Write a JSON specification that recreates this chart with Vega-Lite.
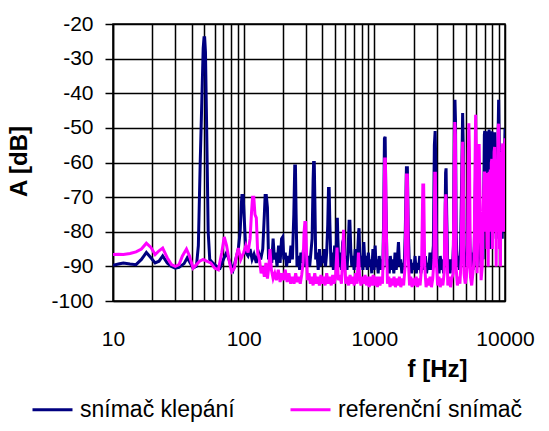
{
  "$schema": "https://vega.github.io/schema/vega-lite/v6.json",
  "width": 392,
  "height": 277,
  "autosize": {"type": "none"},
  "padding": {"left": 113, "top": 24, "right": 44, "bottom": 130},
  "background": "white",
  "config": {
    "font": "Liberation Sans",
    "view": {"stroke": "black", "strokeWidth": 1.5},
    "axis": {"labelColor": "black", "titleColor": "black", "domainColor": "black", "domainWidth": 1.5, "tickColor": "black", "tickWidth": 1.5, "gridColor": "black", "gridOpacity": 1, "gridWidth": 1.5}
  },
  "layer": [
    {
      "data": {"values": [
        {"f":10,"a":-89.7},{"f":11,"a":-89.3},{"f":12,"a":-89},{"f":13.5,"a":-89.3},{"f":15,"a":-89.5},{"f":16.5,"a":-88},{"f":18,"a":-86},{"f":19.5,"a":-87.5},{"f":21,"a":-89},{"f":22.5,"a":-88.5},{"f":24,"a":-87},{"f":26,"a":-89},{"f":28,"a":-90},{"f":30,"a":-90.5},{"f":32,"a":-90.3},{"f":35,"a":-89.2},{"f":37,"a":-87.5},{"f":39,"a":-89},{"f":41,"a":-90.5},{"f":43.5,"a":-90},{"f":45,"a":-84},{"f":46.5,"a":-60},{"f":48,"a":-40},{"f":49,"a":-27},{"f":49.7,"a":-24},{"f":50.3,"a":-24},{"f":51,"a":-28},{"f":52,"a":-48},{"f":53.5,"a":-80},{"f":55,"a":-88},{"f":58,"a":-89},{"f":62,"a":-90},{"f":66,"a":-90.5},{"f":70,"a":-88},{"f":74,"a":-86},{"f":78,"a":-88.5},{"f":83,"a":-91},{"f":87,"a":-88},{"f":91,"a":-85},{"f":94,"a":-80},{"f":96,"a":-72},{"f":97,"a":-69.5},{"f":99,"a":-69.5},{"f":101,"a":-76},{"f":104,"a":-86},{"f":108,"a":-87},{"f":112,"a":-85},{"f":116,"a":-88},{"f":120,"a":-86.5},{"f":125,"a":-89},{"f":130,"a":-86},{"f":135,"a":-88},{"f":140,"a":-85},{"f":144,"a":-75},{"f":146,"a":-69.5},{"f":149,"a":-69.5},{"f":152,"a":-73},{"f":155,"a":-88},{"f":160,"a":-85},{"f":164,"a":-89},{"f":168,"a":-82},{"f":172,"a":-88},{"f":176,"a":-86},{"f":180,"a":-90},{"f":185,"a":-84},{"f":190,"a":-89},{"f":195,"a":-82},{"f":199,"a":-81.5},{"f":203,"a":-88},{"f":208,"a":-86},{"f":213,"a":-90},{"f":218,"a":-87},{"f":224,"a":-89},{"f":230,"a":-84},{"f":236,"a":-88},{"f":242,"a":-75},{"f":246,"a":-61},{"f":249,"a":-61},{"f":252,"a":-75},{"f":256,"a":-90},{"f":262,"a":-87},{"f":268,"a":-91},{"f":274,"a":-86},{"f":280,"a":-89},{"f":287,"a":-85},{"f":294,"a":-90},{"f":300,"a":-86},{"f":306,"a":-89},{"f":313,"a":-87},{"f":320,"a":-90},{"f":327,"a":-86},{"f":334,"a":-82},{"f":340,"a":-65},{"f":343,"a":-60},{"f":347,"a":-60},{"f":351,"a":-72},{"f":356,"a":-88},{"f":364,"a":-86},{"f":372,"a":-91},{"f":380,"a":-85},{"f":388,"a":-90},{"f":396,"a":-87},{"f":405,"a":-89},{"f":414,"a":-85},{"f":423,"a":-90},{"f":432,"a":-86},{"f":440,"a":-78},{"f":446,"a":-67.5},{"f":451,"a":-67.5},{"f":457,"a":-78},{"f":466,"a":-90},{"f":476,"a":-86},{"f":486,"a":-91},{"f":497,"a":-84},{"f":506,"a":-90},{"f":516,"a":-80},{"f":521,"a":-76},{"f":526,"a":-82},{"f":536,"a":-90},{"f":548,"a":-86},{"f":560,"a":-91},{"f":572,"a":-83},{"f":583,"a":-82},{"f":594,"a":-90},{"f":606,"a":-87},{"f":618,"a":-91},{"f":632,"a":-84},{"f":641,"a":-77},{"f":650,"a":-77},{"f":660,"a":-85},{"f":672,"a":-90},{"f":686,"a":-87},{"f":700,"a":-91},{"f":714,"a":-85},{"f":728,"a":-90},{"f":743,"a":-87},{"f":758,"a":-80},{"f":764,"a":-79},{"f":770,"a":-84},{"f":786,"a":-90},{"f":802,"a":-87},{"f":818,"a":-91},{"f":831,"a":-83},{"f":848,"a":-90},{"f":865,"a":-87},{"f":882,"a":-91},{"f":900,"a":-86},{"f":918,"a":-90},{"f":937,"a":-88},{"f":956,"a":-92},{"f":975,"a":-85},{"f":995,"a":-91},{"f":1015,"a":-84},{"f":1030,"a":-90},{"f":1050,"a":-88},{"f":1070,"a":-92},{"f":1090,"a":-87},{"f":1115,"a":-91},{"f":1135,"a":-88},{"f":1160,"a":-91},{"f":1180,"a":-75},{"f":1195,"a":-53},{"f":1210,"a":-52.6},{"f":1225,"a":-70},{"f":1250,"a":-90},{"f":1275,"a":-88},{"f":1300,"a":-92},{"f":1325,"a":-87},{"f":1355,"a":-91},{"f":1380,"a":-88},{"f":1410,"a":-92},{"f":1440,"a":-86},{"f":1470,"a":-91},{"f":1500,"a":-88},{"f":1530,"a":-83},{"f":1560,"a":-90},{"f":1590,"a":-88},{"f":1625,"a":-92},{"f":1655,"a":-89},{"f":1690,"a":-91},{"f":1725,"a":-80},{"f":1760,"a":-61.5},{"f":1790,"a":-61.5},{"f":1820,"a":-80},{"f":1855,"a":-90},{"f":1895,"a":-88},{"f":1930,"a":-92},{"f":1970,"a":-89},{"f":2010,"a":-91},{"f":2050,"a":-87},{"f":2095,"a":-92},{"f":2135,"a":-89},{"f":2180,"a":-91},{"f":2225,"a":-87},{"f":2270,"a":-92},{"f":2320,"a":-89},{"f":2360,"a":-86},{"f":2410,"a":-91},{"f":2460,"a":-87},{"f":2510,"a":-92},{"f":2560,"a":-89},{"f":2610,"a":-91},{"f":2665,"a":-86},{"f":2720,"a":-91},{"f":2775,"a":-88},{"f":2830,"a":-84},{"f":2880,"a":-55},{"f":2920,"a":-50.9},{"f":2960,"a":-62},{"f":3010,"a":-90},{"f":3070,"a":-88},{"f":3130,"a":-92},{"f":3195,"a":-87},{"f":3260,"a":-91},{"f":3325,"a":-88},{"f":3390,"a":-92},{"f":3460,"a":-86},{"f":3510,"a":-63},{"f":3540,"a":-61.7},{"f":3580,"a":-75},{"f":3650,"a":-91},{"f":3720,"a":-88},{"f":3800,"a":-92},{"f":3875,"a":-88},{"f":3955,"a":-91},{"f":4030,"a":-84},{"f":4100,"a":-50},{"f":4140,"a":-41.9},{"f":4180,"a":-48},{"f":4230,"a":-80},{"f":4300,"a":-90},{"f":4390,"a":-87},{"f":4480,"a":-91},{"f":4570,"a":-85},{"f":4680,"a":-60},{"f":4740,"a":-45.7},{"f":4790,"a":-55},{"f":4860,"a":-88},{"f":4960,"a":-86},{"f":5060,"a":-90},{"f":5160,"a":-84},{"f":5240,"a":-70},{"f":5290,"a":-62},{"f":5350,"a":-80},{"f":5460,"a":-90},{"f":5570,"a":-86},{"f":5700,"a":-91},{"f":5820,"a":-84},{"f":5900,"a":-72},{"f":5960,"a":-62},{"f":6030,"a":-80},{"f":6120,"a":-90},{"f":6240,"a":-80},{"f":6340,"a":-66},{"f":6450,"a":-86},{"f":6560,"a":-90},{"f":6680,"a":-84},{"f":6800,"a":-88},{"f":6900,"a":-65},{"f":6950,"a":-52},{"f":7000,"a":-50.9},{"f":7060,"a":-70},{"f":7120,"a":-55},{"f":7200,"a":-51},{"f":7280,"a":-75},{"f":7360,"a":-56},{"f":7440,"a":-80},{"f":7500,"a":-55},{"f":7560,"a":-50.5},{"f":7630,"a":-72},{"f":7700,"a":-52},{"f":7770,"a":-85},{"f":7850,"a":-58},{"f":7930,"a":-51},{"f":8010,"a":-80},{"f":8100,"a":-55},{"f":8200,"a":-70},{"f":8280,"a":-52},{"f":8330,"a":-51.3},{"f":8400,"a":-75},{"f":8480,"a":-58},{"f":8560,"a":-82},{"f":8640,"a":-60},{"f":8720,"a":-78},{"f":8800,"a":-56},{"f":8870,"a":-50},{"f":8940,"a":-41.9},{"f":9010,"a":-52},{"f":9080,"a":-75},{"f":9150,"a":-56},{"f":9230,"a":-80},{"f":9300,"a":-62},{"f":9380,"a":-78},{"f":9450,"a":-60},{"f":9530,"a":-82},{"f":9600,"a":-64},{"f":9680,"a":-70},{"f":9740,"a":-60},{"f":9800,"a":-57.4},{"f":9860,"a":-75},{"f":9930,"a":-56},{"f":10000,"a":-50.2}
      ]},
      "mark": {"type": "line", "strokeWidth": 3, "clip": true},
      "encoding": {
        "x": {"field": "f", "type": "quantitative",
          "scale": {"type": "log", "domain": [10, 10000], "nice": false},
          "axis": {"values": [10,20,30,40,50,60,70,80,90,100,200,300,400,500,600,700,800,900,1000,2000,3000,4000,5000,6000,7000,8000,9000,10000],
            "tickCount": 100,
            "labelExpr": "(datum.value == 10 || datum.value == 100 || datum.value == 1000 || datum.value == 10000) ? '' + datum.value : ''",
            "ticks": false, "tickSize": 0, "labelPadding": 27, "labelFontSize": 21, "labelFlush": false, "labelOverlap": false,
            "grid": true, "title": "f [Hz]", "titleFontSize": 24, "titleFontWeight": "bold",
            "titleX": 324, "titleY": 75, "titleBaseline": "alphabetic", "titleAlign": "center"}},
        "y": {"field": "a", "type": "quantitative",
          "scale": {"domain": [-100, -20], "nice": false},
          "axis": {"values": [-100,-90,-80,-70,-60,-50,-40,-30,-20], "tickCount": 100, "labelExpr": "'' + datum.value",
            "tickSize": 8, "labelPadding": 12, "labelFontSize": 21, "labelOverlap": false, "grid": true,
            "title": "A [dB]", "titleFontSize": 24, "titleFontWeight": "bold",
            "titleX": -94, "titleY": 137, "titleAngle": 270, "titleAlign": "center", "titleBaseline": "middle"}},
        "color": {"datum": "snímač klepání", "type": "nominal",
          "scale": {"domain": ["snímač klepání", "referenční snímač"], "range": ["#000080", "#FF00FF"]},
          "legend": {"title": null, "orient": "none", "direction": "horizontal", "legendX": -82, "legendY": 364,
            "symbolType": "stroke", "symbolSize": 1600, "symbolStrokeWidth": 3, "labelFontSize": 23, "labelColor": "black",
            "labelOffset": 6, "columnPadding": 49, "labelLimit": 300}}
      }
    },
    {
      "data": {"values": [
        {"f":10,"a":-86.6},{"f":11,"a":-86.5},{"f":12,"a":-86.6},{"f":13.5,"a":-86.3},{"f":15,"a":-85.8},{"f":16.5,"a":-85},{"f":18,"a":-83.3},{"f":19.5,"a":-84.5},{"f":21,"a":-86.6},{"f":22.5,"a":-85.5},{"f":24,"a":-84.7},{"f":26,"a":-87.5},{"f":28,"a":-89.5},{"f":30,"a":-90},{"f":32,"a":-89.5},{"f":34,"a":-87},{"f":36.5,"a":-85},{"f":38.5,"a":-87},{"f":41,"a":-90.5},{"f":43.5,"a":-89.5},{"f":46,"a":-88.5},{"f":49,"a":-88},{"f":52,"a":-88.5},{"f":56,"a":-89},{"f":60,"a":-90.5},{"f":64,"a":-91},{"f":68,"a":-86},{"f":71,"a":-81.5},{"f":74,"a":-84},{"f":78,"a":-89},{"f":81,"a":-91.5},{"f":85,"a":-90.5},{"f":88,"a":-87},{"f":91,"a":-84.7},{"f":95,"a":-88},{"f":100,"a":-86},{"f":104,"a":-84},{"f":108,"a":-86},{"f":112,"a":-82},{"f":115,"a":-74},{"f":117,"a":-70},{"f":119.5,"a":-70},{"f":122,"a":-75},{"f":125,"a":-76},{"f":128,"a":-86},{"f":132,"a":-88},{"f":136,"a":-92},{"f":140,"a":-90},{"f":144,"a":-93},{"f":148,"a":-89},{"f":152,"a":-93.5},{"f":156,"a":-90},{"f":159,"a":-85},{"f":163,"a":-91},{"f":168,"a":-93.5},{"f":173,"a":-92},{"f":178,"a":-94},{"f":184,"a":-91},{"f":190,"a":-94.5},{"f":196,"a":-92},{"f":202,"a":-94},{"f":208,"a":-91},{"f":215,"a":-94.5},{"f":222,"a":-92},{"f":229,"a":-95},{"f":236,"a":-93},{"f":243,"a":-95},{"f":250,"a":-92},{"f":257,"a":-94.5},{"f":264,"a":-93},{"f":271,"a":-95},{"f":278,"a":-92.5},{"f":285,"a":-89},{"f":290,"a":-80},{"f":294,"a":-77.3},{"f":298,"a":-77.3},{"f":302,"a":-85},{"f":308,"a":-94},{"f":316,"a":-92},{"f":324,"a":-95},{"f":332,"a":-93},{"f":340,"a":-95.5},{"f":350,"a":-92},{"f":360,"a":-95},{"f":370,"a":-93},{"f":380,"a":-95.5},{"f":390,"a":-92.5},{"f":400,"a":-95},{"f":410,"a":-93},{"f":420,"a":-95.5},{"f":432,"a":-92},{"f":444,"a":-95},{"f":456,"a":-93},{"f":468,"a":-95.5},{"f":480,"a":-92.5},{"f":492,"a":-95},{"f":505,"a":-93},{"f":518,"a":-84.6},{"f":530,"a":-94},{"f":545,"a":-92.5},{"f":560,"a":-95},{"f":572,"a":-88},{"f":581,"a":-79.4},{"f":590,"a":-88},{"f":605,"a":-95},{"f":620,"a":-93},{"f":636,"a":-95.5},{"f":652,"a":-92.5},{"f":668,"a":-95},{"f":685,"a":-93},{"f":702,"a":-95.5},{"f":720,"a":-92},{"f":738,"a":-95},{"f":756,"a":-86},{"f":770,"a":-92.5},{"f":790,"a":-95.5},{"f":810,"a":-93},{"f":830,"a":-95},{"f":850,"a":-92.5},{"f":870,"a":-95.5},{"f":892,"a":-93},{"f":914,"a":-96},{"f":936,"a":-93},{"f":958,"a":-95.5},{"f":980,"a":-92.5},{"f":1005,"a":-95.5},{"f":1030,"a":-93},{"f":1055,"a":-96},{"f":1080,"a":-93},{"f":1105,"a":-95.5},{"f":1130,"a":-93},{"f":1155,"a":-95},{"f":1180,"a":-80},{"f":1200,"a":-59},{"f":1215,"a":-59},{"f":1235,"a":-80},{"f":1260,"a":-95},{"f":1290,"a":-93},{"f":1320,"a":-96},{"f":1350,"a":-93.5},{"f":1380,"a":-95.5},{"f":1415,"a":-93},{"f":1450,"a":-96},{"f":1485,"a":-93.5},{"f":1520,"a":-95.5},{"f":1555,"a":-93},{"f":1595,"a":-96},{"f":1635,"a":-93.5},{"f":1675,"a":-95.5},{"f":1720,"a":-90},{"f":1760,"a":-63.6},{"f":1790,"a":-63.6},{"f":1820,"a":-88},{"f":1860,"a":-95.5},{"f":1900,"a":-93},{"f":1945,"a":-96},{"f":1990,"a":-93.5},{"f":2040,"a":-95.5},{"f":2090,"a":-93},{"f":2140,"a":-96},{"f":2190,"a":-93.5},{"f":2240,"a":-95.5},{"f":2300,"a":-90},{"f":2350,"a":-66.5},{"f":2385,"a":-66.5},{"f":2430,"a":-90},{"f":2490,"a":-96},{"f":2550,"a":-93.5},{"f":2610,"a":-95.5},{"f":2670,"a":-93},{"f":2735,"a":-96},{"f":2800,"a":-93.5},{"f":2860,"a":-88},{"f":2900,"a":-63.1},{"f":2930,"a":-63.1},{"f":2975,"a":-88},{"f":3050,"a":-95.5},{"f":3120,"a":-93},{"f":3195,"a":-96},{"f":3270,"a":-93.5},{"f":3345,"a":-95.5},{"f":3420,"a":-92},{"f":3490,"a":-72},{"f":3530,"a":-69.2},{"f":3570,"a":-80},{"f":3650,"a":-95.5},{"f":3740,"a":-93},{"f":3830,"a":-96},{"f":3920,"a":-93.5},{"f":4010,"a":-92},{"f":4090,"a":-60},{"f":4130,"a":-48.3},{"f":4170,"a":-52},{"f":4220,"a":-90},{"f":4320,"a":-95.5},{"f":4420,"a":-93},{"f":4520,"a":-95},{"f":4620,"a":-88},{"f":4700,"a":-60},{"f":4740,"a":-54},{"f":4790,"a":-60},{"f":4860,"a":-92},{"f":4960,"a":-95},{"f":5060,"a":-93},{"f":5160,"a":-90},{"f":5240,"a":-58},{"f":5290,"a":-48.7},{"f":5340,"a":-56},{"f":5440,"a":-93},{"f":5560,"a":-95.5},{"f":5680,"a":-92},{"f":5800,"a":-88},{"f":5900,"a":-60},{"f":5960,"a":-46.2},{"f":6020,"a":-55},{"f":6120,"a":-92},{"f":6240,"a":-70},{"f":6340,"a":-54.7},{"f":6440,"a":-70},{"f":6560,"a":-94},{"f":6700,"a":-90},{"f":6800,"a":-75},{"f":6900,"a":-66},{"f":6950,"a":-63},{"f":7000,"a":-63},{"f":7060,"a":-80},{"f":7120,"a":-65},{"f":7200,"a":-63},{"f":7280,"a":-85},{"f":7360,"a":-66},{"f":7440,"a":-90},{"f":7500,"a":-64},{"f":7560,"a":-62.7},{"f":7640,"a":-80},{"f":7720,"a":-62},{"f":7800,"a":-75},{"f":7860,"a":-60},{"f":7930,"a":-59},{"f":8010,"a":-85},{"f":8080,"a":-62},{"f":8160,"a":-75},{"f":8250,"a":-57},{"f":8330,"a":-55.5},{"f":8400,"a":-80},{"f":8480,"a":-62},{"f":8560,"a":-90},{"f":8640,"a":-65},{"f":8720,"a":-80},{"f":8800,"a":-58},{"f":8870,"a":-50},{"f":8940,"a":-48.8},{"f":9010,"a":-58},{"f":9080,"a":-85},{"f":9150,"a":-62},{"f":9230,"a":-90},{"f":9300,"a":-64},{"f":9380,"a":-80},{"f":9450,"a":-58},{"f":9530,"a":-56},{"f":9600,"a":-54.5},{"f":9680,"a":-75},{"f":9740,"a":-60},{"f":9800,"a":-62},{"f":9860,"a":-80},{"f":9930,"a":-58},{"f":10000,"a":-53}
      ]},
      "mark": {"type": "line", "strokeWidth": 3, "clip": true},
      "encoding": {
        "x": {"field": "f", "type": "quantitative"},
        "y": {"field": "a", "type": "quantitative"},
        "color": {"datum": "referenční snímač", "type": "nominal"}
      }
    }
  ]
}
